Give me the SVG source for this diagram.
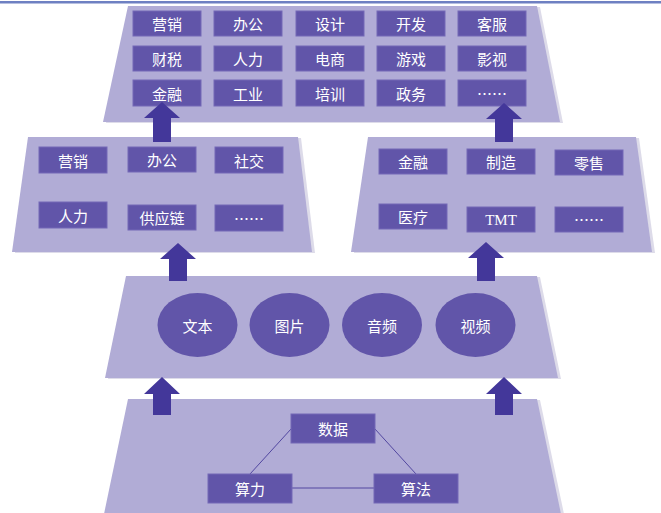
<svg xmlns="http://www.w3.org/2000/svg" width="661" height="513" viewBox="0 0 661 513">
<style>
.panel{fill:#b1acd6}
.shadow{fill:#dddbe9}
.box{fill:#6155a9;stroke:#7468b6;stroke-width:1}
.ell{fill:#6155a9}
.t{fill:#ffffff;font-family:"Noto Sans CJK SC","Noto Sans",sans-serif;font-size:15px;text-anchor:middle;dominant-baseline:central}
.lat{font-family:"Liberation Serif",serif}
.arrow{fill:#43379a}
.ln{stroke:#5247a0;stroke-width:1;fill:none}
</style>
<rect x="0" y="0" width="661" height="513" fill="#ffffff"/>
<rect x="0" y="1" width="661" height="2.5" fill="#6e80c2"/>

<g id="layer-apps">
<polygon class="shadow" points="131,7 540,7 563,123 106,123"/>
<polygon class="panel" points="128,6 537,6 560,122 103,122"/>
</g>
<g id="layer-industries-left">
<polygon class="shadow" points="31,138 301,138 315,253 15,253"/>
<polygon class="panel" points="28,137 298,137 312,252 12,252"/>
</g>
<g id="layer-industries-right">
<polygon class="shadow" points="371,138 639,138 655,253 354,253"/>
<polygon class="panel" points="368,137 636,137 652,252 351,252"/>
</g>
<g id="layer-modal">
<polygon class="shadow" points="129,277 540,277 561,379 108,379"/>
<polygon class="panel" points="126,276 537,276 558,378 105,378"/>
</g>
<g id="layer-base">
<polygon class="shadow" points="131,400 540,400 564,514 107,514"/>
<polygon class="panel" points="128,399 537,399 561,514 104,514"/>
</g>

<g id="n-yingxiao"><rect class="box" x="133" y="11" width="68" height="25"/><text class="t" x="167" y="23.5">营销</text></g>
<g id="n-bangong"><rect class="box" x="214" y="11" width="68" height="25"/><text class="t" x="248" y="23.5">办公</text></g>
<g id="n-sheji"><rect class="box" x="296" y="11" width="68" height="25"/><text class="t" x="330" y="23.5">设计</text></g>
<g id="n-kaifa"><rect class="box" x="377" y="11" width="68" height="25"/><text class="t" x="411" y="23.5">开发</text></g>
<g id="n-kefu"><rect class="box" x="458" y="11" width="68" height="25"/><text class="t" x="492" y="23.5">客服</text></g>

<g id="n-caishui"><rect class="box" x="133" y="46" width="68" height="25"/><text class="t" x="167" y="58.5">财税</text></g>
<g id="n-renli"><rect class="box" x="214" y="46" width="68" height="25"/><text class="t" x="248" y="58.5">人力</text></g>
<g id="n-dianshang"><rect class="box" x="296" y="46" width="68" height="25"/><text class="t" x="330" y="58.5">电商</text></g>
<g id="n-youxi"><rect class="box" x="377" y="46" width="68" height="25"/><text class="t" x="411" y="58.5">游戏</text></g>
<g id="n-yingshi"><rect class="box" x="458" y="46" width="68" height="25"/><text class="t" x="492" y="58.5">影视</text></g>

<g id="n-jinrong"><rect class="box" x="133" y="80" width="68" height="26"/><text class="t" x="167" y="93">金融</text></g>
<g id="n-gongye"><rect class="box" x="214" y="80" width="68" height="26"/><text class="t" x="248" y="93">工业</text></g>
<g id="n-peixun"><rect class="box" x="296" y="80" width="68" height="26"/><text class="t" x="330" y="93">培训</text></g>
<g id="n-zhengwu"><rect class="box" x="377" y="80" width="68" height="26"/><text class="t" x="411" y="93">政务</text></g>
<g id="n-more1"><rect class="box" x="458" y="80" width="68" height="26"/><text class="t" x="492" y="93">……</text></g>

<g id="n-l-yingxiao"><rect class="box" x="39" y="147" width="68" height="26"/><text class="t" x="73" y="160">营销</text></g>
<g id="n-l-bangong"><rect class="box" x="128" y="147" width="68" height="25"/><text class="t" x="162" y="159.5">办公</text></g>
<g id="n-l-shejiao"><rect class="box" x="215" y="147" width="68" height="26"/><text class="t" x="249" y="160">社交</text></g>
<g id="n-l-renli"><rect class="box" x="39" y="202" width="68" height="26"/><text class="t" x="73" y="215">人力</text></g>
<g id="n-l-gongyinglian"><rect class="box" x="128" y="205" width="68" height="25"/><text class="t" x="162" y="217.5">供应链</text></g>
<g id="n-l-more"><rect class="box" x="215" y="205" width="68" height="26"/><text class="t" x="249" y="218">……</text></g>

<g id="n-r-jinrong"><rect class="box" x="379" y="149" width="68" height="25"/><text class="t" x="413" y="161.5">金融</text></g>
<g id="n-r-zhizao"><rect class="box" x="467" y="149" width="68" height="25"/><text class="t" x="501" y="161.5">制造</text></g>
<g id="n-r-lingshou"><rect class="box" x="555" y="150" width="68" height="25"/><text class="t" x="589" y="162.5">零售</text></g>
<g id="n-r-yiliao"><rect class="box" x="379" y="204" width="68" height="25"/><text class="t" x="413" y="216.5">医疗</text></g>
<g id="n-r-tmt"><rect class="box" x="467" y="207" width="68" height="25"/><text class="t lat" x="501" y="219.5">TMT</text></g>
<g id="n-r-more"><rect class="box" x="555" y="207" width="68" height="25"/><text class="t" x="589" y="219.5">……</text></g>

<g id="n-wenben"><ellipse class="ell" cx="197.5" cy="325" rx="40" ry="32"/><text class="t" x="197.5" y="325">文本</text></g>
<g id="n-tupian"><ellipse class="ell" cx="289.5" cy="325" rx="40" ry="32"/><text class="t" x="289.5" y="325">图片</text></g>
<g id="n-yinpin"><ellipse class="ell" cx="382" cy="325" rx="40" ry="32"/><text class="t" x="382" y="325">音频</text></g>
<g id="n-shipin"><ellipse class="ell" cx="475.5" cy="325" rx="40" ry="32"/><text class="t" x="475.5" y="325">视频</text></g>

<g id="connectors">
<line class="ln" x1="291" y1="429" x2="250" y2="474"/>
<line class="ln" x1="375" y1="429" x2="416" y2="474"/>
<line class="ln" x1="292" y1="488" x2="374" y2="488"/>
<polygon class="arrow" points="162,102 180,118 171,118 171,142 153,142 153,118 144,118"/>
<polygon class="arrow" points="504,103 522,119 513,119 513,142 495,142 495,119 486,119"/>
<polygon class="arrow" points="178,243 196,259 187,259 187,281 169,281 169,259 160,259"/>
<polygon class="arrow" points="486,242 504,258 495,258 495,281 477,281 477,258 468,258"/>
<polygon class="arrow" points="162,377 180,394 171,394 171,415 153,415 153,394 144,394"/>
<polygon class="arrow" points="504,377 522,394 513,394 513,415 495,415 495,394 486,394"/>
</g>

<g id="n-shuju"><rect class="box" x="291" y="414" width="84" height="29"/><text class="t" x="333" y="428.5">数据</text></g>
<g id="n-suanli"><rect class="box" x="208" y="474" width="84" height="29"/><text class="t" x="250" y="488.5">算力</text></g>
<g id="n-suanfa"><rect class="box" x="374" y="474" width="84" height="29"/><text class="t" x="416" y="488.5">算法</text></g>
</svg>
